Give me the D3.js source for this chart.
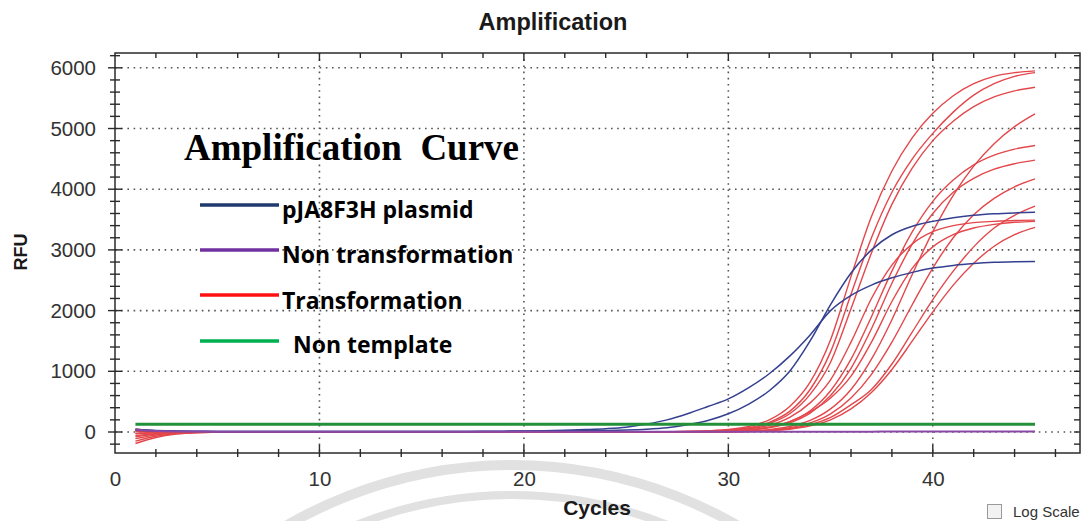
<!DOCTYPE html>
<html>
<head>
<meta charset="utf-8">
<script src="https://cdn.jsdelivr.net/npm/d3@7"></script>
<style>
body { margin: 0; background: #fff; }
svg { display: block; }
</style>
</head>
<body>
<svg id="chart" width="1092" height="521"></svg>
<script>
// cycle numbers (x values)
var cycles = [1,2,3,4,5,6,7,8,9,10,
    11,12,13,14,15,16,17,18,19,20,
    21,22,23,24,25,26,27,28,29,30,
    31,32,33,34,35,36,37,38,39,40,
    41,42,43,44,45];

// RFU, one array per well
var plasmidA = [30,18,12,10,10,10,10,10,10,10,
    10,10,10,10,10,10,10,12,14,16,
    20,28,40,55,80,130,200,300,420,545,
    730,960,1250,1600,2000,2250,2420,2540,2630,2700,
    2745,2775,2795,2805,2810];
var plasmidB = [45,25,15,12,10,10,10,10,10,10,
    10,10,10,10,10,10,10,10,10,12,
    14,16,20,25,32,45,70,120,190,300,
    460,680,1000,1500,2100,2620,3000,3250,3390,3470,
    3530,3570,3595,3610,3620];

var trans1 = [-190,-90,-35,-12,-5,0,0,0,0,0,
    0,0,0,0,0,0,0,0,0,0,
    0,0,0,0,0,0,5,10,20,40,
    90,200,420,820,1520,2560,3550,4300,4850,5250,
    5540,5740,5860,5920,5950];
var trans2 = [-150,-70,-25,-8,-3,0,0,0,0,0,
    0,0,0,0,0,0,0,0,0,0,
    0,0,0,0,0,0,4,8,15,30,
    70,160,340,700,1320,2270,3200,3950,4500,4920,
    5270,5550,5740,5860,5920];
var trans3 = [-110,-50,-18,-6,-2,0,0,0,0,0,
    0,0,0,0,0,0,0,0,0,0,
    0,0,0,0,0,0,3,7,13,25,
    60,140,300,620,1150,2030,2950,3750,4350,4800,
    5120,5360,5520,5620,5680];
var trans4 = [-60,-30,-12,-4,-2,0,0,0,0,0,
    0,0,0,0,0,0,0,0,0,0,
    0,0,0,0,0,0,2,5,10,20,
    50,110,240,480,860,1480,2200,2750,3100,3300,
    3400,3450,3470,3485,3490];
var trans5 = [40,15,5,0,0,0,0,0,0,0,
    0,0,0,0,0,0,0,0,0,0,
    0,0,0,0,0,0,0,0,2,5,
    15,40,90,190,380,700,1200,1850,2600,3300,
    3900,4380,4750,5030,5240];
var trans6 = [-30,-15,-6,-2,0,0,0,0,0,0,
    0,0,0,0,0,0,0,0,0,0,
    0,0,0,0,0,0,0,2,6,15,
    35,80,170,350,680,1200,1900,2650,3300,3800,
    4150,4400,4560,4660,4720];
var trans7 = [20,8,3,0,0,0,0,0,0,0,
    0,0,0,0,0,0,0,0,0,0,
    0,0,0,0,0,0,0,2,5,10,
    30,70,150,310,600,1050,1700,2450,3100,3600,
    3950,4180,4330,4420,4480];
var trans8 = [-80,-35,-12,-4,-1,0,0,0,0,0,
    0,0,0,0,0,0,0,0,0,0,
    0,0,0,0,0,0,0,0,2,5,
    12,30,70,150,300,560,950,1480,2100,2700,
    3200,3580,3850,4040,4170];
var trans9 = [50,20,6,2,0,0,0,0,0,0,
    0,0,0,0,0,0,0,0,0,0,
    0,0,0,0,0,0,0,0,2,5,
    10,25,55,120,240,450,700,1120,1650,2180,
    2650,3050,3360,3570,3720];
var trans10 = [-20,-8,-3,0,0,0,0,0,0,0,
    0,0,0,0,0,0,0,0,0,0,
    0,0,0,0,0,0,0,2,6,15,
    35,80,170,330,560,920,1480,2150,2700,3050,
    3250,3360,3420,3455,3470];
var trans11 = [10,5,2,0,0,0,0,0,0,0,
    0,0,0,0,0,0,0,0,0,0,
    0,0,0,0,0,0,0,0,1,3,
    8,20,45,100,200,380,650,1030,1500,1980,
    2420,2780,3060,3250,3370];

var nonTrans = [35,18,10,8,6,5,5,5,5,5,
    5,5,5,5,5,5,5,5,5,5,
    5,5,5,5,5,5,5,5,5,5,
    5,5,5,6,6,6,6,7,7,7,
    7,8,8,8,8];
var nonTemplate = [128,128,127,127,127,127,127,127,127,127,
    127,127,127,127,127,127,127,127,127,127,
    127,127,127,127,127,127,127,127,127,127,
    127,127,127,127,127,127,127,127,127,127,
    127,127,127,127,127];

var transWells = [trans1, trans2, trans3, trans4, trans5, trans6, trans7, trans8, trans9, trans10, trans11];
var plasmidWells = [plasmidA, plasmidB];

var xLabels = [0, 10, 20, 30, 40];
var yLabels = [0, 1000, 2000, 3000, 4000, 5000, 6000];
var legendLabels = ["pJA8F3H plasmid", "Non transformation", "Transformation", "Non template"];
var legendColors = ["#1f3a6e", "#7030a0", "#ff1010", "#00b050"];

var svg = d3.select("#chart");

var x = d3.scaleLinear().domain([0, 47.2]).range([115, 1080]);
var y = d3.scaleLinear().domain([-346, 6244]).range([453, 53]);

// faint round watermark at the bottom
svg.append("circle").attr("cx", 512).attr("cy", 915).attr("r", 450)
    .attr("fill", "none").attr("stroke", "#e1e1e1").attr("stroke-width", 10);
svg.append("circle").attr("cx", 512).attr("cy", 915).attr("r", 420)
    .attr("fill", "none").attr("stroke", "#e1e1e1").attr("stroke-width", 8);

// dotted grid
svg.append("g").selectAll("line").data(xLabels.slice(1)).enter().append("line")
    .attr("x1", d => x(d)).attr("x2", d => x(d))
    .attr("y1", 53).attr("y2", 453)
    .attr("stroke", "#555").attr("stroke-width", 1.6)
    .attr("stroke-dasharray", "1.6,4.6");
svg.append("g").selectAll("line").data(yLabels).enter().append("line")
    .attr("x1", 115).attr("x2", 1080)
    .attr("y1", d => y(d)).attr("y2", d => y(d))
    .attr("stroke", "#555").attr("stroke-width", 1.6)
    .attr("stroke-dasharray", "1.6,4.6");

// tick marks on all four sides
var xTicks = d3.range(2, 47, 2);
var yTicks = d3.range(-200, 6201, 200);
var tickG = svg.append("g").attr("stroke", "#2b2b2b").attr("stroke-width", 1.4);
tickG.selectAll(".yl").data(yTicks).enter().append("line")
    .attr("x1", d => d % 1000 == 0 ? 108 : 110)
    .attr("x2", d => d % 1000 == 0 ? 122 : 120)
    .attr("y1", d => y(d)).attr("y2", d => y(d));
tickG.selectAll(".yr").data(yTicks).enter().append("line")
    .attr("x1", 1074).attr("x2", 1080)
    .attr("y1", d => y(d)).attr("y2", d => y(d));
tickG.selectAll(".xb").data(xTicks).enter().append("line")
    .attr("x1", d => x(d)).attr("x2", d => x(d))
    .attr("y1", d => d % 10 == 0 ? 445 : 449).attr("y2", 457);
tickG.selectAll(".xt").data(xTicks).enter().append("line")
    .attr("x1", d => x(d)).attr("x2", d => x(d))
    .attr("y1", 53).attr("y2", d => d % 10 == 0 ? 61 : 58);

// curves
var line = d3.line()
    .x(function (d, i) { return x(cycles[i]); })
    .y(function (d) { return y(d); })
    .curve(d3.curveMonotoneX);

var curveG = svg.append("g").attr("fill", "none");
curveG.selectAll(".red").data(transWells).enter().append("path")
    .attr("d", line).attr("stroke", "#e3474b").attr("stroke-width", 1.4);
curveG.selectAll(".blue").data(plasmidWells).enter().append("path")
    .attr("d", line).attr("stroke", "#34408f").attr("stroke-width", 1.5);
curveG.append("path").datum(nonTrans)
    .attr("d", line).attr("stroke", "#8a48a6").attr("stroke-width", 2);
curveG.append("path").datum(nonTemplate)
    .attr("d", line).attr("stroke", "#23903a").attr("stroke-width", 3);

// frame
svg.append("rect").attr("x", 115).attr("y", 53).attr("width", 965).attr("height", 400)
    .attr("fill", "none").attr("stroke", "#2b2b2b").attr("stroke-width", 1.5);

// tick labels
var xAxis = svg.append("g").attr("transform", "translate(0,453)")
    .call(d3.axisBottom(x).tickValues(xLabels).tickSize(0).tickPadding(18));
var yAxis = svg.append("g").attr("transform", "translate(115,0)")
    .call(d3.axisLeft(y).tickValues(yLabels).tickSize(0).tickPadding(19).tickFormat(d3.format("d")));
[xAxis, yAxis].forEach(function (g) {
    g.select(".domain").remove();
    g.selectAll("text").attr("fill", "#333")
        .style("font-family", "'Liberation Sans', Arial, sans-serif")
        .style("font-size", "20.5px");
});

// titles
svg.append("text").attr("x", 553).attr("y", 30).attr("text-anchor", "middle")
    .style("font-family", "'Liberation Sans', Arial, sans-serif")
    .style("font-size", "23.5px").style("font-weight", "bold").attr("fill", "#1a1a1a")
    .text("Amplification");
svg.append("text").attr("transform", "translate(27,252) rotate(-90)").attr("text-anchor", "middle")
    .style("font-family", "'Liberation Sans', Arial, sans-serif")
    .style("font-size", "18px").style("font-weight", "bold").attr("fill", "#1a1a1a")
    .text("RFU");
svg.append("text").attr("x", 597).attr("y", 515).attr("text-anchor", "middle")
    .style("font-family", "'Liberation Sans', Arial, sans-serif")
    .style("font-size", "21px").style("font-weight", "bold").attr("fill", "#1a1a1a")
    .text("Cycles");

// legend block
svg.append("text").attr("x", 184).attr("y", 160)
    .style("font-family", "'Liberation Serif', 'Times New Roman', serif")
    .style("font-size", "37px").style("font-weight", "bold").style("white-space", "pre")
    .attr("fill", "#000")
    .text("Amplification  Curve");

var legendY = [205, 250, 295, 341];
var legendTextX = [282, 282, 282, 293];
var legendTextY = [218, 263, 309, 353];
var leg = svg.append("g");
leg.selectAll("line").data(legendLabels).enter().append("line")
    .attr("x1", 200).attr("x2", 279)
    .attr("y1", (d, i) => legendY[i]).attr("y2", (d, i) => legendY[i])
    .attr("stroke", (d, i) => legendColors[i]).attr("stroke-width", 3.5);
leg.selectAll("text").data(legendLabels).enter().append("text")
    .attr("x", (d, i) => legendTextX[i]).attr("y", (d, i) => legendTextY[i])
    .style("font-family", "'Open Sans', sans-serif")
    .style("font-size", "23px").style("font-weight", "bold").attr("fill", "#000")
    .text(d => d);

// log scale checkbox
svg.append("rect").attr("x", 987.5).attr("y", 504.5).attr("width", 14).attr("height", 14)
    .attr("fill", "#f2f2f2").attr("stroke", "#9a9a9a");
svg.append("text").attr("x", 1013).attr("y", 517)
    .style("font-family", "'Liberation Sans', Arial, sans-serif")
    .style("font-size", "15px").attr("fill", "#333")
    .text("Log Scale");
</script>
</body>
</html>
